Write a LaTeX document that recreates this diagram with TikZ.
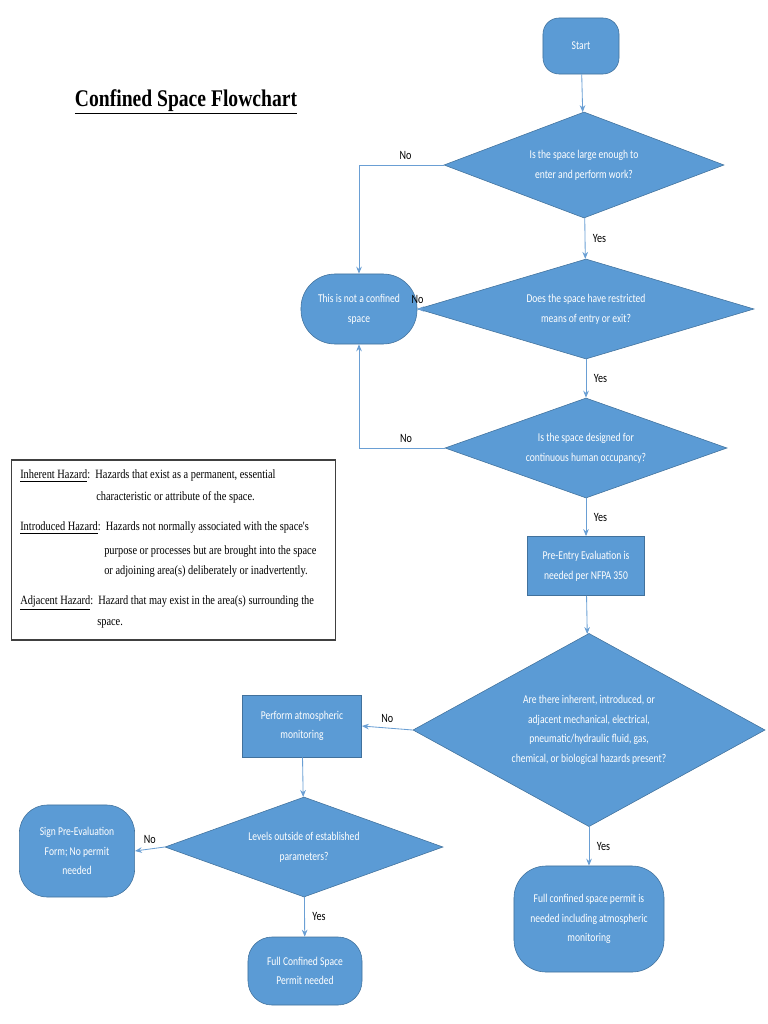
\documentclass[tikz,border=0pt]{standalone}
\usepackage{fontspec}
\usetikzlibrary{shapes.geometric,arrows.meta}
\newfontfamily\nf{Carlito}[FakeStretch=0.8]
\newfontfamily\lf{Liberation Serif}[FakeStretch=0.82]
\definecolor{bfill}{HTML}{5B9BD5}
\definecolor{bdraw}{HTML}{41719C}
\definecolor{aline}{HTML}{6A9FD4}
\begin{document}
\begin{tikzpicture}[x=0.025cm,y=-0.025cm,
  box/.style={draw=bdraw,fill=bfill,text=white,font=\nf\fontsize{8.5}{14}\selectfont,align=center,inner sep=1pt},
  dia/.style={diamond,draw=bdraw,fill=bfill,inner sep=0pt,label={[text=white,font=\nf\fontsize{8.5}{14}\selectfont,align=center]center:#1}},
  arr/.style={draw=aline,line width=0.6pt,-{Stealth[length=5pt,width=4pt]}},
  lab/.style={font=\nf\fontsize{9}{10}\selectfont,text=black},
  lg/.style={anchor=west,font=\lf\fontsize{9}{10}\selectfont,inner sep=0pt}]
\useasboundingbox (0,0) rectangle (768,1024);
\node[font=\lf\bfseries\fontsize{17}{18}\selectfont] (title) at (186,102) {\underline{Confined Space Flowchart}};
\node[box,rounded corners=0.4cm,minimum width=1.9cm,minimum height=1.4cm] (start) at (581,46) {Start};
\node[dia={Is the space large enough to\\enter and perform work?},minimum width=7.0cm,minimum height=2.65cm] (d1) at (584,165) {};
\node[box,rounded corners=0.85cm,minimum width=2.9cm,minimum height=1.75cm] (nc) at (359,309) {This is not a confined\\space};
\node[dia={Does the space have restricted\\means of entry or exit?},minimum width=8.4cm,minimum height=2.5cm] (d2) at (586,309) {};
\node[dia={Is the space designed for\\continuous human occupancy?},minimum width=7.05cm,minimum height=2.5cm] (d3) at (586,448) {};
\node[box,minimum width=2.93cm,minimum height=1.48cm] (pre) at (586,566) {Pre-Entry Evaluation is\\needed per NFPA 350};
\node[dia={Are there inherent, introduced, or\\adjacent mechanical, electrical,\\pneumatic/hydraulic fluid, gas,\\chemical, or biological hazards present?},minimum width=8.8cm,minimum height=4.83cm] (d4) at (589,730) {};
\node[box,minimum width=2.98cm,minimum height=1.55cm] (perf) at (302,726) {Perform atmospheric\\monitoring};
\node[dia={Levels outside of established\\parameters?},minimum width=6.95cm,minimum height=2.5cm] (d5) at (304,847) {};
\node[box,rounded corners=0.7cm,minimum width=2.88cm,minimum height=2.3cm] (sign) at (77,851) {Sign Pre-Evaluation\\Form; No permit\\needed};
\node[box,rounded corners=0.6cm,minimum width=2.85cm,minimum height=1.7cm] (full) at (305,971) {Full Confined Space\\Permit needed};
\node[box,rounded corners=0.8cm,minimum width=3.75cm,minimum height=2.65cm] (full2) at (589,919) {Full confined space permit is\\needed including atmospheric\\monitoring};
\coordinate (c1) at (359,165);
\coordinate (c3) at (359,448);
\draw[arr] (start) -- (d1);
\draw[arr] (d1) -- node[lab,right,pos=0.5,xshift=2pt]{Yes} (d2);
\draw[arr] (d1.west) -- node[lab,above,pos=0.45]{No} (c1) -- (nc);
\draw[arr] (d2.west) -- node[lab,above]{No} (nc.east);
\draw[arr] (d2) -- node[lab,right,xshift=2pt]{Yes} (d3);
\draw[arr] (d3.west) -- node[lab,above,pos=0.45]{No} (c3) -- (nc);
\draw[arr] (d3) -- node[lab,right,xshift=2pt]{Yes} (pre);
\draw[arr] (pre) -- (d4);
\draw[arr] (d4.west) -- node[lab,above]{No} (perf.east);
\draw[arr] (perf) -- (d5);
\draw[arr] (d5.west) -- node[lab,above]{No} (sign.east);
\draw[arr] (d5) -- node[lab,right,xshift=2pt]{Yes} (full);
\draw[arr] (d4) -- node[lab,right,xshift=2pt]{Yes} (full2);
\node[draw=black!75,line width=0.8pt,minimum width=8.08cm,minimum height=4.5cm] (legend) at (173.5,550) {};
\node[lg] (l1) at (20,476) {\underline{Inherent Hazard}:~~Hazards that exist as a permanent, essential};
\node[lg] (l2) at (96,497) {characteristic or attribute of the space.};
\node[lg] (l3) at (20,528) {\underline{Introduced Hazard}:~~Hazards not normally associated with the space's};
\node[lg] (l4) at (104,551) {purpose or processes but are brought into the space};
\node[lg] (l5) at (104,571) {or adjoining area(s) deliberately or inadvertently.};
\node[lg] (l6) at (20,603) {\underline{Adjacent Hazard}:~~Hazard that may exist in the area(s) surrounding the};
\node[lg] (l7) at (97,624) {space.};
\end{tikzpicture}
\end{document}
